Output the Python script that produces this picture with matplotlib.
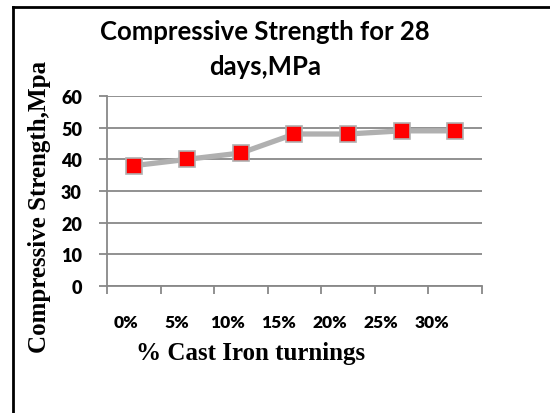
import matplotlib.pyplot as plt
from matplotlib.lines import Line2D
from matplotlib.transforms import ScaledTranslation

categories = ["0%", "5%", "10%", "15%", "20%", "25%", "30%"]
strength = [38, 40, 42, 48, 48, 49, 49]

fig = plt.figure(figsize=(5.5, 4.14), dpi=100)
ax = fig.add_axes([0.1945, 0.3068, 0.6818, 0.4589])

x = list(range(len(categories)))
ax.plot(x, strength, color="#b0b0b0", lw=3.8, marker="s", ms=11.5,
        mfc="#ff0000", mec="#b0b0b0", mew=1.2, zorder=3)

ax.set_xlim(-0.5, len(categories) - 0.5)
ax.set_ylim(0, 60)
ax.set_yticks(range(0, 61, 10))
ax.set_xticks(x)
ax.set_xticklabels(categories)
ax.set_xticks([i - 0.5 for i in range(len(categories) + 1)], minor=True)
ax.tick_params(axis="x", which="major", length=0, pad=20)
ax.tick_params(axis="x", which="minor", length=6, width=1.3, color="#888888")
ax.tick_params(axis="y", length=6, width=1.3, color="#888888", pad=12)
# the category labels sit a little left of the category centres, as in the original
for i, lab in enumerate(ax.get_xticklabels()):
    lab.set_fontfamily("Lato")
    lab.set_fontweight("heavy")
    lab.set_fontsize(12.5)
    dx = -(8 + 2.6 * i) / 100
    lab.set_transform(lab.get_transform() + ScaledTranslation(dx, 0, fig.dpi_scale_trans))
for lab in ax.get_yticklabels():
    lab.set_fontfamily("Lato")
    lab.set_fontweight("heavy")
    lab.set_fontsize(13)

ax.grid(axis="y", color="#888888", lw=1.3)
ax.set_axisbelow(True)
for s in ["top", "right"]:
    ax.spines[s].set_visible(False)
for s in ["left", "bottom"]:
    ax.spines[s].set_color("#888888")
    ax.spines[s].set_linewidth(1.3)

fig.text(0.482, 0.923, "Compressive Strength for 28", ha="center", va="center",
         fontsize=18.5, fontweight="bold", family="Lato")
fig.text(0.482, 0.838, "days,MPa", ha="center", va="center",
         fontsize=18.5, fontweight="bold", family="Lato")

fig.text(0.071, 0.50, "Compressive Strength,Mpa", rotation=90, ha="center",
         va="center", fontsize=18, fontweight="bold", family="Liberation Serif")
fig.text(0.455, 0.145, "% Cast Iron turnings", ha="center", va="center",
         fontsize=18, fontweight="bold", family="Liberation Serif")

# outer frame (top and left edges visible)
fig.add_artist(Line2D([13 / 550, 13 / 550], [0, 1 - 8 / 414], transform=fig.transFigure,
                      color="black", lw=2))
fig.add_artist(Line2D([13 / 550, 1], [1 - 8 / 414, 1 - 8 / 414], transform=fig.transFigure,
                      color="black", lw=2))

fig.savefig("out.png", dpi=100)
